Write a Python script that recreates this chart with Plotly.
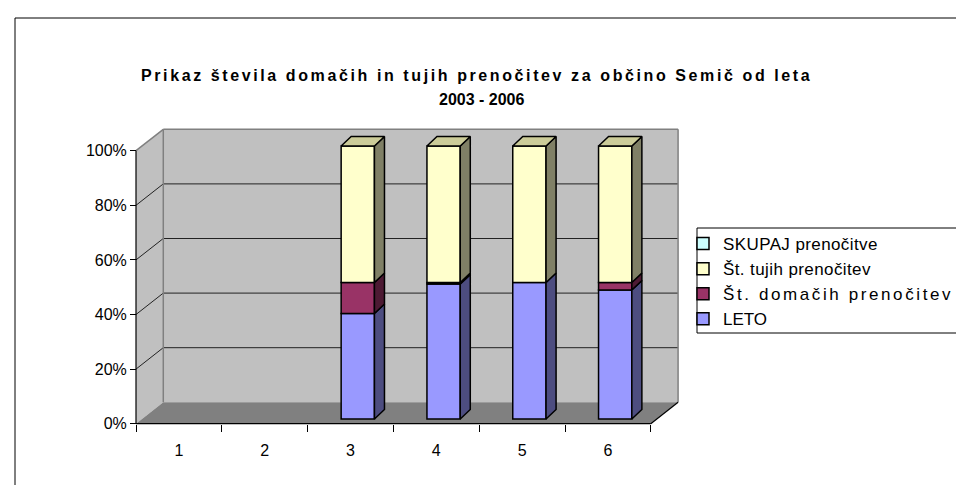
import plotly.graph_objects as go

# ---------------- data ----------------
categories = [1, 2, 3, 4, 5, 6]
tick_labels = ["1", "2", "3", "4", "5", "6"]
series_names = ["LETO", "Št. domačih prenočitev", "Št. tujih prenočitev", "SKUPAJ prenočitve"]
leto = [0, 0, 38.6, 49.4, 50.0, 47.2]
domacih = [0, 0, 11.4, 0.6, 0.0, 2.8]
tujih = [0, 0, 50.0, 50.0, 50.0, 50.0]
skupaj = [0, 0, 0, 0, 0, 0]
y_ticks = [0, 20, 40, 60, 80, 100]
boundaries = [0.5, 1.5, 2.5, 3.5, 4.5, 5.5, 6.5]
title_line1 = "Prikaz števila domačih in tujih prenočitev za občino Semič od leta"
title_line2 = "2003 - 2006"

front_colors = ["#9999FF", "#993366", "#FFFFCC", "#CCFFFF"]
side_colors = ["#4D4D80", "#4D1A33", "#808066", "#668080"]
top_colors = ["#7A7ACC", "#7A2952", "#CCCC99", "#A3CCCC"]
legend_spacing = [0, 2.6, 0.4, 0.4]   # px letter-spacing mimicking the stretched legend text

# ---------------- geometry (page pixel layout) ----------------
W, H = 956, 485
PL, PR, PT, PB = 120, 690, 120, 432          # plot-area box in pixels
L, R, T, B = PL, W - PR, PT, H - PB
PX_U = 85.8      # px per category unit
PX_P = 2.73      # px per percent
X0PX, Y0PX = 136.0, 423.7   # pixel of (0.5, 0%)
plot_w = PR - PL
plot_h = PB - PT
x_range = [0.5 - (X0PX - PL) / PX_U, 0.5 + (PR - X0PX) / PX_U]
y_range = [-(PB - Y0PX) / PX_P, (Y0PX - PT) / PX_P]


def px_x(p):
    return (p - PL) / plot_w


def px_y(p):
    return (PB - p) / plot_h


DX, DY = 0.318, 7.84          # wall depth in data units
BX, BY = 0.085, 1.75          # bar front offset
BDX, BDY = 0.117, 3.48        # bar depth
BW = 0.388                    # bar width
XL, XR = 0.5, 6.5

values = [leto, domacih, tujih, skupaj]
totals = [sum(v[i] for v in values) for i in range(len(categories))]
pct = [[(v[i] / totals[i] * 100 if totals[i] else 0) for i in range(len(categories))] for v in values]

fig = go.Figure()

shapes = []
shapes.append(dict(type="path", layer="below", xref="x", yref="y",
                   path=f"M{XL},0 L{XL},100 L{XL+DX},{100+DY} L{XL+DX},{DY} Z",
                   fillcolor="#C0C0C0", line=dict(width=0)))
shapes.append(dict(type="rect", layer="below", xref="x", yref="y",
                   x0=XL + DX, x1=XR + DX, y0=DY, y1=100 + DY,
                   fillcolor="#C0C0C0", line=dict(width=0)))
shapes.append(dict(type="path", layer="below", xref="x", yref="y",
                   path=f"M{XL},0 L{XR},0 L{XR+DX},{DY} L{XL+DX},{DY} Z",
                   fillcolor="#808080", line=dict(width=0)))
for v in y_ticks[1:-1]:
    shapes.append(dict(type="line", layer="below", xref="x", yref="y",
                       x0=XL + DX, x1=XR + DX, y0=v + DY, y1=v + DY,
                       line=dict(color="#222222", width=1)))
    shapes.append(dict(type="line", layer="below", xref="x", yref="y",
                       x0=XL, x1=XL + DX, y0=v, y1=v + DY,
                       line=dict(color="#222222", width=1)))
for (a, b, c, d) in [(XL, 100, XL + DX, 100 + DY), (XL + DX, 100 + DY, XR + DX, 100 + DY),
                     (XR + DX, 100 + DY, XR + DX, DY), (XL + DX, DY, XL + DX, 100 + DY)]:
    shapes.append(dict(type="line", layer="below", xref="x", yref="y",
                       x0=a, y0=b, x1=c, y1=d, line=dict(color="#808080", width=1.5)))
shapes.append(dict(type="line", xref="x", yref="y", x0=XL, x1=XL, y0=0, y1=100,
                   line=dict(color="black", width=1.2)))
shapes.append(dict(type="line", xref="x", yref="y", x0=XL, x1=XR, y0=0, y1=0,
                   line=dict(color="black", width=1.2)))
shapes.append(dict(type="line", xref="x", yref="y", x0=XR, x1=XR + DX, y0=0, y1=DY,
                   line=dict(color="black", width=1.2)))
# chart border and legend border
shapes.append(dict(type="rect", xref="paper", yref="paper",
                   x0=px_x(15), x1=px_x(W + 5), y0=px_y(H + 5), y1=px_y(18),
                   line=dict(color="black", width=1), fillcolor="rgba(0,0,0,0)"))
shapes.append(dict(type="rect", xref="paper", yref="paper",
                   x0=px_x(697), x1=px_x(W + 5), y0=px_y(333), y1=px_y(228),
                   line=dict(color="black", width=1), fillcolor="rgba(0,0,0,0)"))

cum = [0.0] * len(categories)
side_polys = []
for s, name in enumerate(series_names):
    ys, bases, xs = [], [], []
    sx, sy = [], []
    for i, c in enumerate(categories):
        h = pct[s][i]
        xs.append(c + BX)
        if h > 0:
            ys.append(h)
            bases.append(cum[i] + BY)
            xr = c + BX + BW / 2
            b0 = cum[i] + BY
            t0 = cum[i] + h + BY
            sx += [xr, xr + BDX, xr + BDX, xr, xr, None]
            sy += [b0, b0 + BDY, t0 + BDY, t0, b0, None]
        else:
            ys.append(None)
            bases.append(None)
    label = name if not legend_spacing[s] else \
        f"<span style=\"letter-spacing:{legend_spacing[s]}px\">{name}</span>"
    fig.add_trace(go.Bar(x=xs, y=ys, base=bases, width=BW, name=label,
                         marker=dict(color=front_colors[s], line=dict(color="black", width=1.5)),
                         legendgroup=name, legendrank=100 - s, hoverinfo="skip"))
    side_polys.append((sx, sy))
    for i in range(len(categories)):
        cum[i] += pct[s][i]

for s, (sx, sy) in enumerate(side_polys):
    if sx:
        fig.add_trace(go.Scatter(x=sx, y=sy, mode="lines", fill="toself",
                                 fillcolor=side_colors[s], line=dict(color="black", width=1.5),
                                 showlegend=False, hoverinfo="skip"))

for s in range(len(series_names)):
    tx, ty = [], []
    for i, c in enumerate(categories):
        if pct[s][i] > 0 and all(pct[k][i] == 0 for k in range(s + 1, len(series_names))):
            xl = c + BX - BW / 2
            xr = c + BX + BW / 2
            t0 = cum[i] + BY
            tx += [xl, xr, xr + BDX, xl + BDX, xl, None]
            ty += [t0, t0, t0 + BDY, t0 + BDY, t0, None]
    if tx:
        fig.add_trace(go.Scatter(x=tx, y=ty, mode="lines", fill="toself",
                                 fillcolor=top_colors[s], line=dict(color="black", width=1.5),
                                 showlegend=False, hoverinfo="skip"))

FONT = "Arial, 'Liberation Sans', sans-serif"
fig.update_layout(
    width=W, height=H,
    margin=dict(l=L, r=R, t=T, b=B, pad=0, autoexpand=False),
    paper_bgcolor="white", plot_bgcolor="white",
    barmode="overlay",
    font=dict(family=FONT, size=16, color="black"),
    shapes=shapes,
    xaxis=dict(range=x_range, showgrid=False, zeroline=False, showline=False,
               tickmode="array", tickvals=categories, ticktext=tick_labels, ticks="",
               anchor="free", position=px_y(Y0PX), ticklabelstandoff=15,
               minor=dict(tickmode="array", tickvals=boundaries, ticks="outside",
                          ticklen=7, tickcolor="black", tickwidth=1, showgrid=False),
               tickfont=dict(size=16)),
    yaxis=dict(range=y_range, showgrid=False, zeroline=False, showline=False,
               tickmode="array", tickvals=y_ticks, ticktext=[f"{v}%" for v in y_ticks],
               ticks="outside", ticklen=6, tickcolor="black",
               anchor="free", position=px_x(X0PX), tickfont=dict(size=16)),
    legend=dict(x=px_x(683), y=px_y(226), xanchor="left", yanchor="top",
                bgcolor="rgba(0,0,0,0)", borderwidth=0, traceorder="grouped",
                tracegroupgap=0, font=dict(size=17, family=FONT)),
    annotations=[
        dict(text=f"<b><span style=\"letter-spacing:2.6px\">{title_line1}</span></b>",
             xref="paper", yref="paper", x=px_x(477), y=px_y(75),
             xanchor="center", yanchor="middle", showarrow=False,
             font=dict(size=16, family=FONT)),
        dict(text=f"<b>{title_line2}</b>",
             xref="paper", yref="paper", x=px_x(482), y=px_y(99),
             xanchor="center", yanchor="middle", showarrow=False,
             font=dict(size=16, family=FONT)),
    ],
)

fig.write_html(
    "out.html",
    config={"displayModeBar": False},
    post_script="document.body.style.margin='0';document.body.style.overflow='hidden';"
                "document.documentElement.style.overflow='hidden';",
)
